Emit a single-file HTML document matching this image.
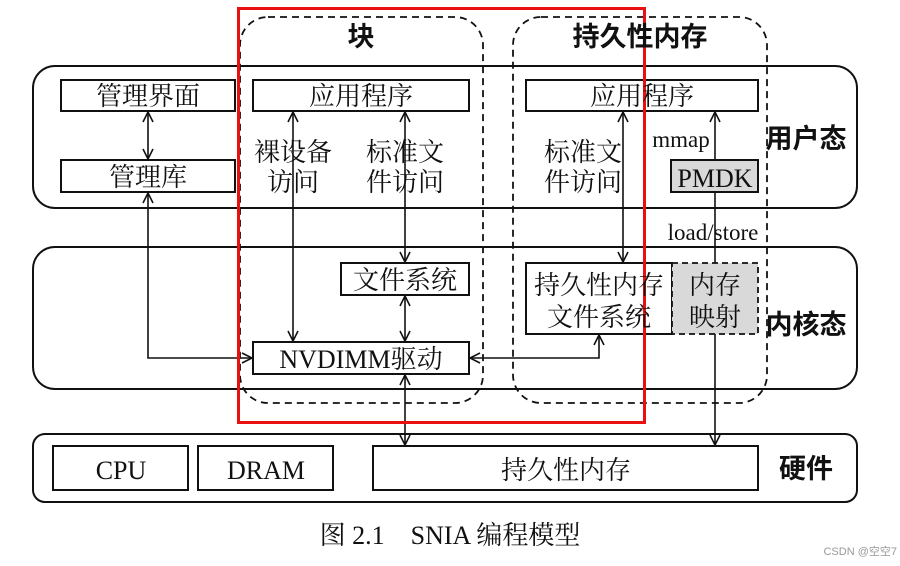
<!DOCTYPE html>
<html><head><meta charset="utf-8"><style>
html,body{margin:0;padding:0;background:#fff;}
svg{display:block;}
.s{font-family:"Liberation Serif","Noto Serif CJK SC",serif;font-size:26px;fill:#111;}
.b{font-family:"Liberation Sans","Noto Sans CJK SC",sans-serif;font-size:27px;font-weight:bold;fill:#111;}
</style></head><body>
<svg width="900" height="566" viewBox="0 0 900 566" xmlns="http://www.w3.org/2000/svg">
<defs>
<marker id="a" viewBox="0 0 12 12" refX="11" refY="6" markerWidth="12" markerHeight="12" markerUnits="userSpaceOnUse" orient="auto-start-reverse">
<path d="M1,1 L11,6 L1,11" fill="none" stroke="#111" stroke-width="1.6"/>
</marker>
</defs>
<g fill="none" stroke="#111" stroke-width="2">
<rect x="33" y="66" width="824" height="142" rx="22"/>
<rect x="33" y="247" width="824" height="142" rx="22"/>
<rect x="33" y="434" width="824" height="68" rx="12"/>
</g>
<g fill="none" stroke="#111" stroke-width="1.8" stroke-dasharray="7,5">
<rect x="240" y="17" width="243" height="386" rx="28"/>
<rect x="513" y="17" width="254" height="386" rx="28"/>
</g>
<g fill="#fff" stroke="#111" stroke-width="2">
<rect x="61" y="80" width="174" height="31"/>
<rect x="61" y="160" width="174" height="32"/>
<rect x="253" y="80" width="216" height="31"/>
<rect x="526" y="80" width="232" height="31"/>
<rect x="341" y="263" width="128" height="32"/>
<rect x="253" y="342" width="216" height="32"/>
<rect x="526" y="263" width="146" height="71"/>
<rect x="671" y="160" width="87" height="32" fill="#d9d9d9"/>
<rect x="53" y="446" width="135" height="44"/>
<rect x="198" y="446" width="135" height="44"/>
<rect x="373" y="446" width="385" height="44"/>
</g>
<rect x="672" y="263" width="86" height="71" fill="#d9d9d9" stroke="#111" stroke-width="1.8" stroke-dasharray="6,4"/>
<g fill="none" stroke="#111" stroke-width="1.6">
<line x1="148" y1="112" x2="148" y2="159" marker-start="url(#a)" marker-end="url(#a)"/>
<polyline points="148,193 148,358 252,358" marker-start="url(#a)" marker-end="url(#a)"/>
<line x1="293" y1="112" x2="293" y2="341" marker-start="url(#a)" marker-end="url(#a)"/>
<line x1="405" y1="112" x2="405" y2="262" marker-start="url(#a)" marker-end="url(#a)"/>
<line x1="405" y1="296" x2="405" y2="341" marker-start="url(#a)" marker-end="url(#a)"/>
<line x1="405" y1="375" x2="405" y2="445" marker-start="url(#a)" marker-end="url(#a)"/>
<line x1="623" y1="112" x2="623" y2="262" marker-start="url(#a)" marker-end="url(#a)"/>
<polyline points="470,358 599,358 599,335" marker-start="url(#a)" marker-end="url(#a)"/>
<line x1="715" y1="160" x2="715" y2="112" marker-end="url(#a)"/>
<line x1="715" y1="192" x2="715" y2="263"/>
<line x1="715" y1="334" x2="715" y2="445" marker-end="url(#a)"/>
</g>
<rect x="238.5" y="8.5" width="406" height="414" fill="none" stroke="#e81010" stroke-width="3"/>
<g class="s" text-anchor="middle">
<text x="148" y="105">管理界面</text>
<text x="148" y="186">管理库</text>
<text x="361" y="105">应用程序</text>
<text x="642" y="105">应用程序</text>
<text x="293" y="161">裸设备</text>
<text x="293" y="191">访问</text>
<text x="405" y="161">标准文</text>
<text x="405" y="191">件访问</text>
<text x="583" y="161">标准文</text>
<text x="583" y="191">件访问</text>
<text x="405" y="289">文件系统</text>
<text x="361" y="368">NVDIMM驱动</text>
<text x="599" y="294">持久性内存</text>
<text x="599" y="326">文件系统</text>
<text x="715" y="294">内存</text>
<text x="715" y="326">映射</text>
<text x="715" y="187">PMDK</text>
<text x="681" y="147" font-size="23">mmap</text>
<text x="713" y="240" font-size="23">load/store</text>
<text x="121" y="479">CPU</text>
<text x="266" y="479">DRAM</text>
<text x="566" y="479">持久性内存</text>
<text x="450" y="544">图 2.1　SNIA 编程模型</text>
</g>
<g class="b" text-anchor="middle">
<text x="361" y="46">块</text>
<text x="640" y="46">持久性内存</text>
<text x="806" y="148">用户态</text>
<text x="806" y="334">内核态</text>
<text x="806" y="478">硬件</text>
</g>
<text x="897" y="555" text-anchor="end" style="font-family:'Liberation Sans','Noto Sans CJK SC',sans-serif;font-size:11px;fill:#999">CSDN @空空7</text>
</svg>
</body></html>
